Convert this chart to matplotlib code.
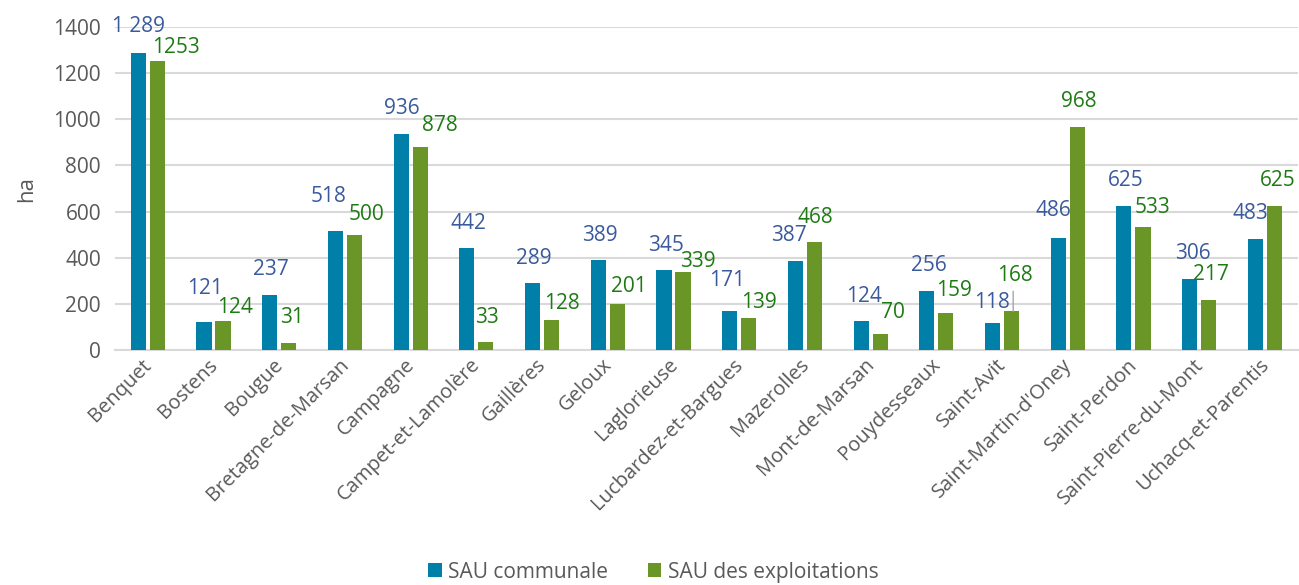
import numpy as np
import matplotlib.pyplot as plt
import matplotlib.transforms as mtransforms

plt.rcParams['font.family'] = ['Open Sans', 'DejaVu Sans']

communes = ["Benquet", "Bostens", "Bougue", "Bretagne-de-Marsan", "Campagne",
            "Campet-et-Lamolère", "Gaillères", "Geloux", "Laglorieuse",
            "Lucbardez-et-Bargues", "Mazerolles", "Mont-de-Marsan", "Pouydesseaux",
            "Saint-Avit", "Saint-Martin-d'Oney", "Saint-Perdon",
            "Saint-Pierre-du-Mont", "Uchacq-et-Parentis"]
sau_communale = [1289, 121, 237, 518, 936, 442, 289, 389, 345, 171, 387, 124, 256,
                 118, 486, 625, 306, 483]
sau_exploit = [1253, 124, 31, 500, 878, 33, 128, 201, 339, 139, 468, 70, 159,
               168, 968, 533, 217, 625]
lbl_communale = ["1 289"] + [str(v) for v in sau_communale[1:]]
lbl_exploit = [str(v) for v in sau_exploit]

# label offsets (pixels) from bar top centre, as placed by hand in the original
off_c = [(0, 26), (1, 34), (1, 26), (-7, 34), (1, 26), (1.5, 25), (1.5, 25), (2, 25),
         (2, 25), (-3, 30), (-6, 25), (3, 25), (2, 25), (0, 20), (-5, 27), (2, 25),
         (3, 26), (-5, 25)]
off_e = [(19, 13), (12, 14), (3.5, 25), (12, 20), (20, 22), (1.5, 25), (10, 17),
         (12, 17), (15, 10), (10, 15), (1, 25), (13, 21), (8, 23), (3, 36), (2, 25),
         (10, 20), (2.5, 25), (3, 25)]

c_blue = '#0080A8'
c_green = '#6A9628'
t_blue = '#3A5A9C'
t_green = '#1E7B14'
gray = '#595959'

fig = plt.figure(figsize=(12.99, 5.85), dpi=100)
ax = fig.add_axes([0.0885, 0.4017, 0.9105, 0.5521])

x = np.arange(len(communes))
w = 0.23
b1 = ax.bar(x - 0.145, sau_communale, w, color=c_blue, label='SAU communale', zorder=3)
b2 = ax.bar(x + 0.145, sau_exploit, w, color=c_green, label='SAU des exploitations', zorder=3)

for i in range(len(x)):
    ax.annotate(lbl_communale[i], (x[i] - 0.145, sau_communale[i]),
                xytext=off_c[i], textcoords='offset pixels', ha='center', va='center',
                color=t_blue, fontsize=15, annotation_clip=False)
    ax.annotate(lbl_exploit[i], (x[i] + 0.145, sau_exploit[i]),
                xytext=off_e[i], textcoords='offset pixels', ha='center', va='center',
                color=t_green, fontsize=15, annotation_clip=False)
    if communes[i] == "Saint-Avit":
        # leader line
        ax.annotate('', (x[i] + 0.17, sau_exploit[i]), xytext=(0, 20),
                    textcoords='offset pixels',
                    arrowprops=dict(arrowstyle='-', color='#A6A6A6', lw=1,
                                    shrinkA=0, shrinkB=0))

ax.set_xlim(-0.5, len(x) - 0.5)
ax.set_ylim(0, 1400)
ax.set_yticks(range(0, 1401, 200))
ax.yaxis.grid(True, color='#D9D9D9', lw=1.5, zorder=0)
ax.set_axisbelow(True)
for s in ['top', 'right', 'left']:
    ax.spines[s].set_visible(False)
ax.spines['bottom'].set_color('#D9D9D9')
ax.spines['bottom'].set_linewidth(1.5)
ax.tick_params(length=0, colors=gray, labelsize=15)
ax.tick_params(axis='y', pad=10)
ax.set_xticks(x)
ax.set_xticklabels(communes, rotation=45, ha='right', rotation_mode='anchor',
                   fontsize=14.5, color=gray)
ax.tick_params(axis='x', pad=5)
shift = mtransforms.ScaledTranslation(-0.06, 0.02, fig.dpi_scale_trans)
for lab in ax.get_xticklabels():
    lab.set_transform(lab.get_transform() + shift)
ax.set_ylabel('ha', fontsize=16, color=gray, labelpad=12)

fig.legend(handles=[b1, b2], loc='lower center', bbox_to_anchor=(0.503, -0.028), ncol=2,
           frameon=False, fontsize=15, labelcolor=gray, handlelength=0.65,
           handleheight=0.65, handletextpad=0.3, columnspacing=1.9)

fig.savefig('out.png', dpi=100)
